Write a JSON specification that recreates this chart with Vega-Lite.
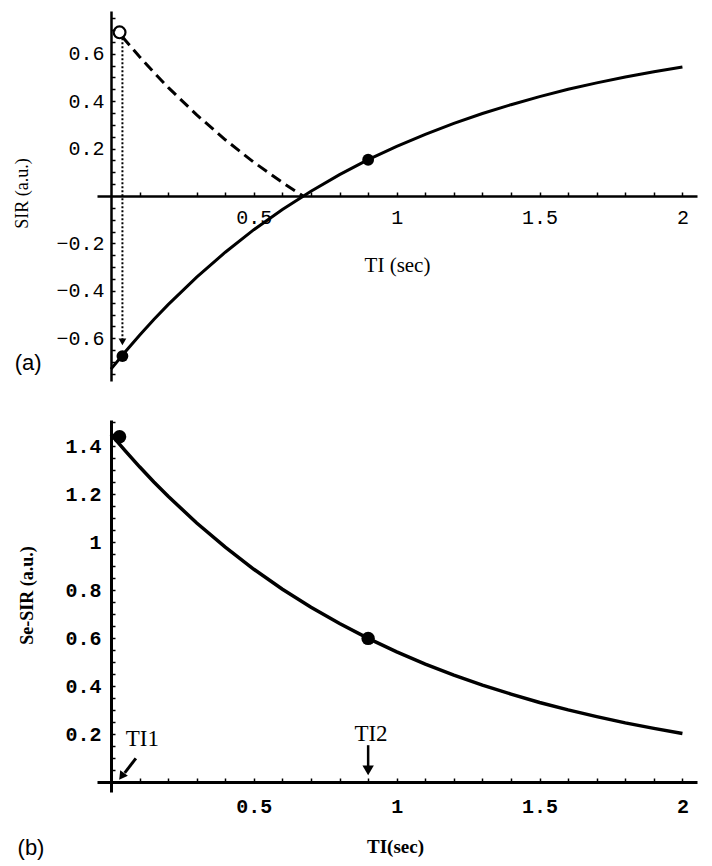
{
  "$schema": "https://vega.github.io/schema/vega-lite/v6.json",
  "background": "white",
  "padding": {"left": 13, "top": 8, "right": 5, "bottom": 2},
  "spacing": 28,
  "config": {"view": {"stroke": null}, "axis": {"grid": false}},
  "datasets": {
    "curveA": [
      {"t": 0, "s": -0.73}, {"t": 0.05, "s": -0.657}, {"t": 0.1, "s": -0.587}, {"t": 0.15, "s": -0.521},
      {"t": 0.2, "s": -0.458}, {"t": 0.3, "s": -0.342}, {"t": 0.4, "s": -0.237}, {"t": 0.5, "s": -0.142},
      {"t": 0.6, "s": -0.057}, {"t": 0.7, "s": 0.020}, {"t": 0.8, "s": 0.090}, {"t": 0.9, "s": 0.153},
      {"t": 1.0, "s": 0.209}, {"t": 1.1, "s": 0.260}, {"t": 1.2, "s": 0.306}, {"t": 1.3, "s": 0.348},
      {"t": 1.4, "s": 0.385}, {"t": 1.5, "s": 0.419}, {"t": 1.6, "s": 0.450}, {"t": 1.7, "s": 0.477},
      {"t": 1.8, "s": 0.502}, {"t": 1.9, "s": 0.524}, {"t": 2.0, "s": 0.544}
    ],
    "dashA": [
      {"t": 0.04, "s": 0.671}, {"t": 0.05, "s": 0.657}, {"t": 0.1, "s": 0.587}, {"t": 0.15, "s": 0.521},
      {"t": 0.2, "s": 0.458}, {"t": 0.3, "s": 0.342}, {"t": 0.4, "s": 0.237}, {"t": 0.5, "s": 0.142},
      {"t": 0.6, "s": 0.057}, {"t": 0.672, "s": 0.0}
    ],
    "ptsA": [{"t": 0.04, "s": -0.675}, {"t": 0.9, "s": 0.153}],
    "circA": [{"t": 0.03, "s": 0.69}],
    "dotA": [{"t": 0.04, "s": 0.665, "s2": -0.61}],
    "headA": [{"t": 0.04, "s": -0.615}],
    "labA": [{"t": -0.29, "s": -0.705, "label": "(a)"}],
    "curveB": [
      {"t": 0, "s": 1.45}, {"t": 0.05, "s": 1.381}, {"t": 0.1, "s": 1.315}, {"t": 0.15, "s": 1.252},
      {"t": 0.2, "s": 1.192}, {"t": 0.3, "s": 1.081}, {"t": 0.4, "s": 0.980}, {"t": 0.5, "s": 0.888},
      {"t": 0.6, "s": 0.805}, {"t": 0.7, "s": 0.730}, {"t": 0.8, "s": 0.662}, {"t": 0.9, "s": 0.600},
      {"t": 1.0, "s": 0.544}, {"t": 1.1, "s": 0.493}, {"t": 1.2, "s": 0.447}, {"t": 1.3, "s": 0.405},
      {"t": 1.4, "s": 0.368}, {"t": 1.5, "s": 0.333}, {"t": 1.6, "s": 0.302}, {"t": 1.7, "s": 0.274},
      {"t": 1.8, "s": 0.248}, {"t": 1.9, "s": 0.225}, {"t": 2.0, "s": 0.204}
    ],
    "ptsB": [{"t": 0.03, "s": 1.44}, {"t": 0.9, "s": 0.6}],
    "arrow1": [{"t": 0.087, "s": 0.1, "t2": 0.048, "s2": 0.04}],
    "head1": [{"t": 0.04, "s": 0.03}],
    "arrow2": [{"t": 0.9, "s": 0.155, "s2": 0.06}],
    "head2": [{"t": 0.9, "s": 0.05}],
    "txtB": [{"t": 0.11, "s": 0.18, "label": "TI1"}, {"t": 0.91, "s": 0.2, "label": "TI2"}],
    "labB": [{"t": -0.28, "s": -0.275, "label": "(b)"}]
  },
  "vconcat": [
    {
      "width": 600,
      "height": 370,
      "encoding": {
        "x": {
          "field": "t", "type": "quantitative",
          "scale": {"domain": [-0.049, 2.051], "nice": false, "zero": false},
          "axis": {
            "title": "TI (sec)", "offset": -185, "grid": false,
            "values": [0.1,0.2,0.3,0.4,0.5,0.6,0.7,0.8,0.9,1,1.1,1.2,1.3,1.4,1.5,1.6,1.7,1.8,1.9,2],
            "format": "~g",
            "labelExpr": "abs(datum.value*2 - round(datum.value*2)) < 0.001 ? datum.label : ''",
            "labelOverlap": false, "labelFlush": false,
            "tickSize": -4, "tickWidth": 1.5, "tickColor": "black",
            "domainColor": "black", "domainWidth": 2.5,
            "labelFont": "Liberation Mono", "labelFontSize": 20, "labelColor": "black", "labelPadding": 15,
            "titleFont": "Liberation Serif", "titleFontSize": 21, "titleFontWeight": "normal", "titleColor": "black",
            "titleX": 300, "titleY": 69, "titleBaseline": "middle", "titleAlign": "center"
          }
        },
        "y": {
          "field": "s", "type": "quantitative",
          "scale": {"domain": [-0.78, 0.78], "nice": false, "zero": false},
          "axis": {
            "title": "SIR (a.u.)", "offset": -14, "grid": false,
            "values": [-0.75,-0.7,-0.65,-0.6,-0.55,-0.5,-0.45,-0.4,-0.35,-0.3,-0.25,-0.2,-0.15,-0.1,-0.05,0.05,0.1,0.15,0.2,0.25,0.3,0.35,0.4,0.45,0.5,0.55,0.6,0.65,0.7,0.75],
            "format": "~g",
            "labelExpr": "abs(datum.value*5 - round(datum.value*5)) < 0.001 ? datum.label : ''",
            "labelOverlap": false, "labelFlush": false,
            "tickSize": -4, "tickWidth": 1.5, "tickColor": "black",
            "domainColor": "black", "domainWidth": 2.5,
            "labelFont": "Liberation Mono", "labelFontSize": 20, "labelColor": "black", "labelPadding": 11,
            "titleFont": "Liberation Serif", "titleFontSize": 18, "titleFontWeight": "normal", "titleColor": "black",
            "titleX": -89, "titleY": 182, "titleBaseline": "middle", "titleAlign": "center", "titleAngle": -90
          }
        }
      },
      "layer": [
        {"data": {"name": "curveA"}, "mark": {"type": "line", "color": "black", "strokeWidth": 3}},
        {"data": {"name": "dashA"}, "mark": {"type": "line", "color": "black", "strokeWidth": 3, "strokeDash": [11, 6]}},
        {"data": {"name": "dotA"}, "mark": {"type": "rule", "color": "black", "strokeWidth": 2, "strokeDash": [2, 2]}, "encoding": {"y2": {"field": "s2"}}},
        {"data": {"name": "headA"}, "mark": {"type": "point", "shape": "triangle-down", "filled": true, "color": "black", "size": 60, "opacity": 1}},
        {"data": {"name": "ptsA"}, "mark": {"type": "point", "shape": "circle", "filled": true, "color": "black", "size": 140, "opacity": 1}},
        {"data": {"name": "circA"}, "mark": {"type": "point", "shape": "circle", "filled": false, "color": "black", "strokeWidth": 2.2, "size": 140, "opacity": 1}},
        {"data": {"name": "labA"}, "mark": {"type": "text", "font": "Liberation Sans", "fontSize": 22, "color": "black", "align": "center", "baseline": "middle"}, "encoding": {"text": {"field": "label"}}}
      ]
    },
    {
      "width": 600,
      "height": 372,
      "encoding": {
        "x": {
          "field": "t", "type": "quantitative",
          "scale": {"domain": [-0.049, 2.051], "nice": false, "zero": false},
          "axis": {
            "title": "TI(sec)", "offset": -10, "grid": false,
            "values": [0.1,0.2,0.3,0.4,0.5,0.6,0.7,0.8,0.9,1,1.1,1.2,1.3,1.4,1.5,1.6,1.7,1.8,1.9,2],
            "format": "~g",
            "labelExpr": "abs(datum.value*2 - round(datum.value*2)) < 0.001 ? datum.label : ''",
            "labelOverlap": false, "labelFlush": false,
            "tickSize": -4, "tickWidth": 1.5, "tickColor": "black",
            "domainColor": "black", "domainWidth": 3,
            "labelFont": "Liberation Mono", "labelFontSize": 20, "labelFontWeight": "bold", "labelColor": "black", "labelPadding": 18,
            "titleFont": "Liberation Serif", "titleFontSize": 19, "titleFontWeight": "bold", "titleColor": "black",
            "titleX": 298, "titleY": 64, "titleBaseline": "middle", "titleAlign": "center"
          }
        },
        "y": {
          "field": "s", "type": "quantitative",
          "scale": {"domain": [-0.04, 1.51], "nice": false, "zero": false},
          "axis": {
            "title": "Se-SIR (a.u.)", "offset": -14, "grid": false,
            "values": [0.05,0.1,0.15,0.2,0.25,0.3,0.35,0.4,0.45,0.5,0.55,0.6,0.65,0.7,0.75,0.8,0.85,0.9,0.95,1,1.05,1.1,1.15,1.2,1.25,1.3,1.35,1.4,1.45,1.5],
            "format": "~g",
            "labelExpr": "abs(datum.value*5 - round(datum.value*5)) < 0.001 ? datum.label : ''",
            "labelOverlap": false, "labelFlush": false,
            "tickSize": -4, "tickWidth": 1.5, "tickColor": "black",
            "domainColor": "black", "domainWidth": 3,
            "labelFont": "Liberation Mono", "labelFontSize": 20, "labelFontWeight": "bold", "labelColor": "black", "labelPadding": 14,
            "titleFont": "Liberation Serif", "titleFontSize": 18, "titleFontWeight": "bold", "titleColor": "black",
            "titleX": -84, "titleY": 175, "titleBaseline": "middle", "titleAlign": "center", "titleAngle": -90
          }
        }
      },
      "layer": [
        {"data": {"name": "curveB"}, "mark": {"type": "line", "color": "black", "strokeWidth": 3.5}},
        {"data": {"name": "ptsB"}, "mark": {"type": "point", "shape": "circle", "filled": true, "color": "black", "size": 180, "opacity": 1}},
        {"data": {"name": "arrow1"}, "mark": {"type": "rule", "color": "black", "strokeWidth": 3}, "encoding": {"x2": {"field": "t2"}, "y2": {"field": "s2"}}},
        {"data": {"name": "head1"}, "mark": {"type": "point", "shape": "triangle", "angle": 216, "filled": true, "color": "black", "size": 90, "opacity": 1}},
        {"data": {"name": "arrow2"}, "mark": {"type": "rule", "color": "black", "strokeWidth": 2.5}, "encoding": {"y2": {"field": "s2"}}},
        {"data": {"name": "head2"}, "mark": {"type": "point", "shape": "triangle-down", "filled": true, "color": "black", "size": 130, "opacity": 1}},
        {"data": {"name": "txtB"}, "mark": {"type": "text", "font": "Liberation Serif", "fontSize": 23, "color": "black", "align": "center", "baseline": "middle"}, "encoding": {"text": {"field": "label"}}},
        {"data": {"name": "labB"}, "mark": {"type": "text", "font": "Liberation Sans", "fontSize": 22, "color": "black", "align": "center", "baseline": "middle"}, "encoding": {"text": {"field": "label"}}}
      ]
    }
  ]
}
